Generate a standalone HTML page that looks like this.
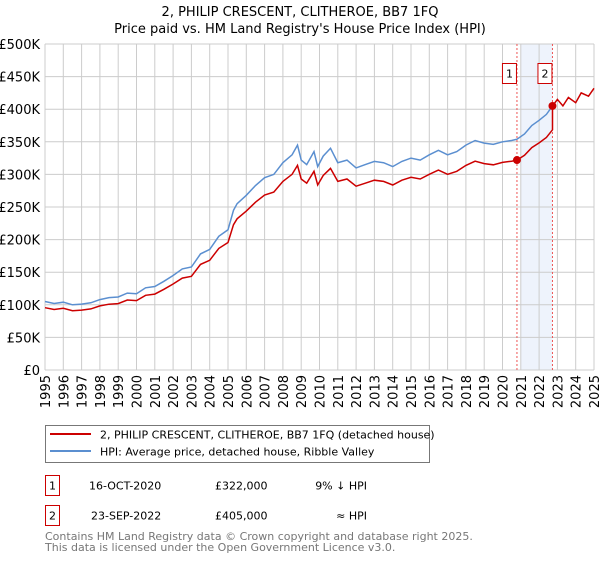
<!DOCTYPE html>
<html><head><meta charset="utf-8"><style>
body{margin:0;background:#fff;font-family:"Liberation Sans","DejaVu Sans",sans-serif;}
svg text{font-family:"DejaVu Sans","Liberation Sans",sans-serif;}
</style></head><body>
<svg id="c" width="600" height="560" xmlns="http://www.w3.org/2000/svg">
<text x="300" y="16" text-anchor="middle" font-size="13">2, PHILIP CRESCENT, CLITHEROE, BB7 1FQ</text>
<text x="300" y="33" text-anchor="middle" font-size="13">Price paid vs. HM Land Registry's House Price Index (HPI)</text>
<g id="plot"></g>
<rect x="45.5" y="425.5" width="384" height="37" fill="#fff" stroke="#777"/>
<line x1="50" y1="434" x2="91" y2="434" stroke="#cc0000" stroke-width="2"/>
<text x="100" y="438.5" font-size="11">2, PHILIP CRESCENT, CLITHEROE, BB7 1FQ (detached house)</text>
<line x1="50" y1="451" x2="91" y2="451" stroke="#5b8fd0" stroke-width="2"/>
<text x="100" y="455.5" font-size="11">HPI: Average price, detached house, Ribble Valley</text>
<g>
<rect x="45.5" y="475.5" width="14" height="20" fill="#fff" stroke="#cc0000"/>
<text x="52.5" y="489.5" text-anchor="middle" font-size="11">1</text>
<text x="89" y="489.5" font-size="11">16-OCT-2020</text>
<text x="215" y="489.5" font-size="11">£322,000</text>
<text x="367" y="489.5" text-anchor="end" font-size="11">9% ↓ HPI</text></g>
<g>
<rect x="45.5" y="505.5" width="14" height="20" fill="#fff" stroke="#cc0000"/>
<text x="52.5" y="519.5" text-anchor="middle" font-size="11">2</text>
<text x="91" y="519.5" font-size="11">23-SEP-2022</text>
<text x="215" y="519.5" font-size="11">£405,000</text>
<text x="367" y="519.5" text-anchor="end" font-size="11">≈ HPI</text></g>
<text x="45" y="540" font-size="11" fill="#777">Contains HM Land Registry data © Crown copyright and database right 2025.</text>
<text x="45" y="551" font-size="11" fill="#777">This data is licensed under the Open Government Licence v3.0.</text>
</svg>
<script>
const yTicks=[0,50000,100000,150000,200000,250000,300000,350000,400000,450000,500000];
const yTickLabels=["£0","£50K","£100K","£150K","£200K","£250K","£300K","£350K","£400K","£450K","£500K"];
const xYears=[1995,1996,1997,1998,1999,2000,2001,2002,2003,2004,2005,2006,2007,2008,2009,2010,2011,2012,2013,2014,2015,2016,2017,2018,2019,2020,2021,2022,2023,2024,2025];
const hpiX=[1995,1995.5,1996,1996.5,1997,1997.5,1998,1998.5,1999,1999.5,2000,2000.5,2001,2001.5,2002,2002.5,2003,2003.5,2004,2004.5,2005,2005.3,2005.5,2006,2006.5,2007,2007.5,2008,2008.5,2008.8,2009,2009.3,2009.7,2009.9,2010.2,2010.6,2011,2011.5,2012,2012.5,2013,2013.5,2014,2014.5,2015,2015.5,2016,2016.5,2017,2017.5,2018,2018.5,2019,2019.5,2020,2020.5,2020.79,2021.2,2021.6,2022,2022.4,2022.73];
const hpiV=[105,102,104,100,101,103,108,111,112,118,117,126,128,136,145,155,158,178,185,205,215,245,255,268,283,295,300,318,330,345,322,315,335,312,328,340,318,322,310,315,320,318,312,320,325,322,330,337,330,335,345,352,348,346,350,352,354,362,375,383,392,405];
const afterX=[2022.73,2023,2023.3,2023.6,2024,2024.3,2024.7,2025];
const afterV=[405,415,405,418,410,425,420,432];
const saleX=[2020.79,2022.73];
const saleV=[322,405];
const X0=45,X1=594,Y0=370,Y1=44;
const sx=y=>X0+(y-1995)/30*(X1-X0);
const sy=v=>Y0-v/500000*(Y0-Y1);
const NS="http://www.w3.org/2000/svg";
const g=document.getElementById('plot');
function mk(t,a){const e=document.createElementNS(NS,t);for(const k in a)e.setAttribute(k,a[k]);g.appendChild(e);return e;}
const band=mk('rect',{x:sx(2021),y:Y1,width:sx(saleX[1])-sx(2021),height:Y0-Y1,fill:'#eef3fc'});


yTicks.forEach((t,i)=>{const l=mk('line',{x1:X0,x2:X1,y1:sy(t),y2:sy(t),stroke:'#ccc'});


const tx=mk('text',{x:40,y:sy(t)+5,'text-anchor':'end','font-size':13});tx.textContent=yTickLabels[i];

});
xYears.forEach(yr=>{const l=mk('line',{x1:sx(yr),x2:sx(yr),y1:Y1,y2:Y0,stroke:'#ccc'});


const tx=mk('text',{x:0,y:0,'font-size':13,'text-anchor':'end',transform:`translate(${sx(yr)+5},${Y0+5}) rotate(-90)`});tx.textContent=yr;

});
saleX.forEach((s,i)=>{const l=mk('line',{x1:sx(s),x2:sx(s),y1:Y1,y2:Y0,stroke:'#ee5555','stroke-dasharray':'2,2'});


const b=mk('rect',{x:sx(s)-14.5,y:63.5,width:14,height:20,fill:'#fff',stroke:'#cc0000'});


const t=mk('text',{x:sx(s)-7.5,y:77.5,'text-anchor':'middle','font-size':11});t.textContent=i+1;

});
const pts=(xs,vs)=>xs.map((x,i)=>sx(x).toFixed(1)+','+sy(vs[i]*1000).toFixed(1)).join(' ');
const hpi=mk('polyline',{points:pts(hpiX,hpiV),fill:'none',stroke:'#5b8fd0','stroke-width':1.5});


const ref1=hpiV[hpiX.indexOf(saleX[0])];
const redV=hpiV.map((v,i)=>v*saleV[0]/ref1);
const red=mk('polyline',{points:pts(hpiX,redV)+' '+pts(afterX,afterV),fill:'none',stroke:'#cc0000','stroke-width':1.5});


saleX.forEach((s,i)=>{const c=mk('circle',{cx:sx(s),cy:sy(saleV[i]*1000),r:4,fill:'#cc0000'});

});
</script>
</body></html>
